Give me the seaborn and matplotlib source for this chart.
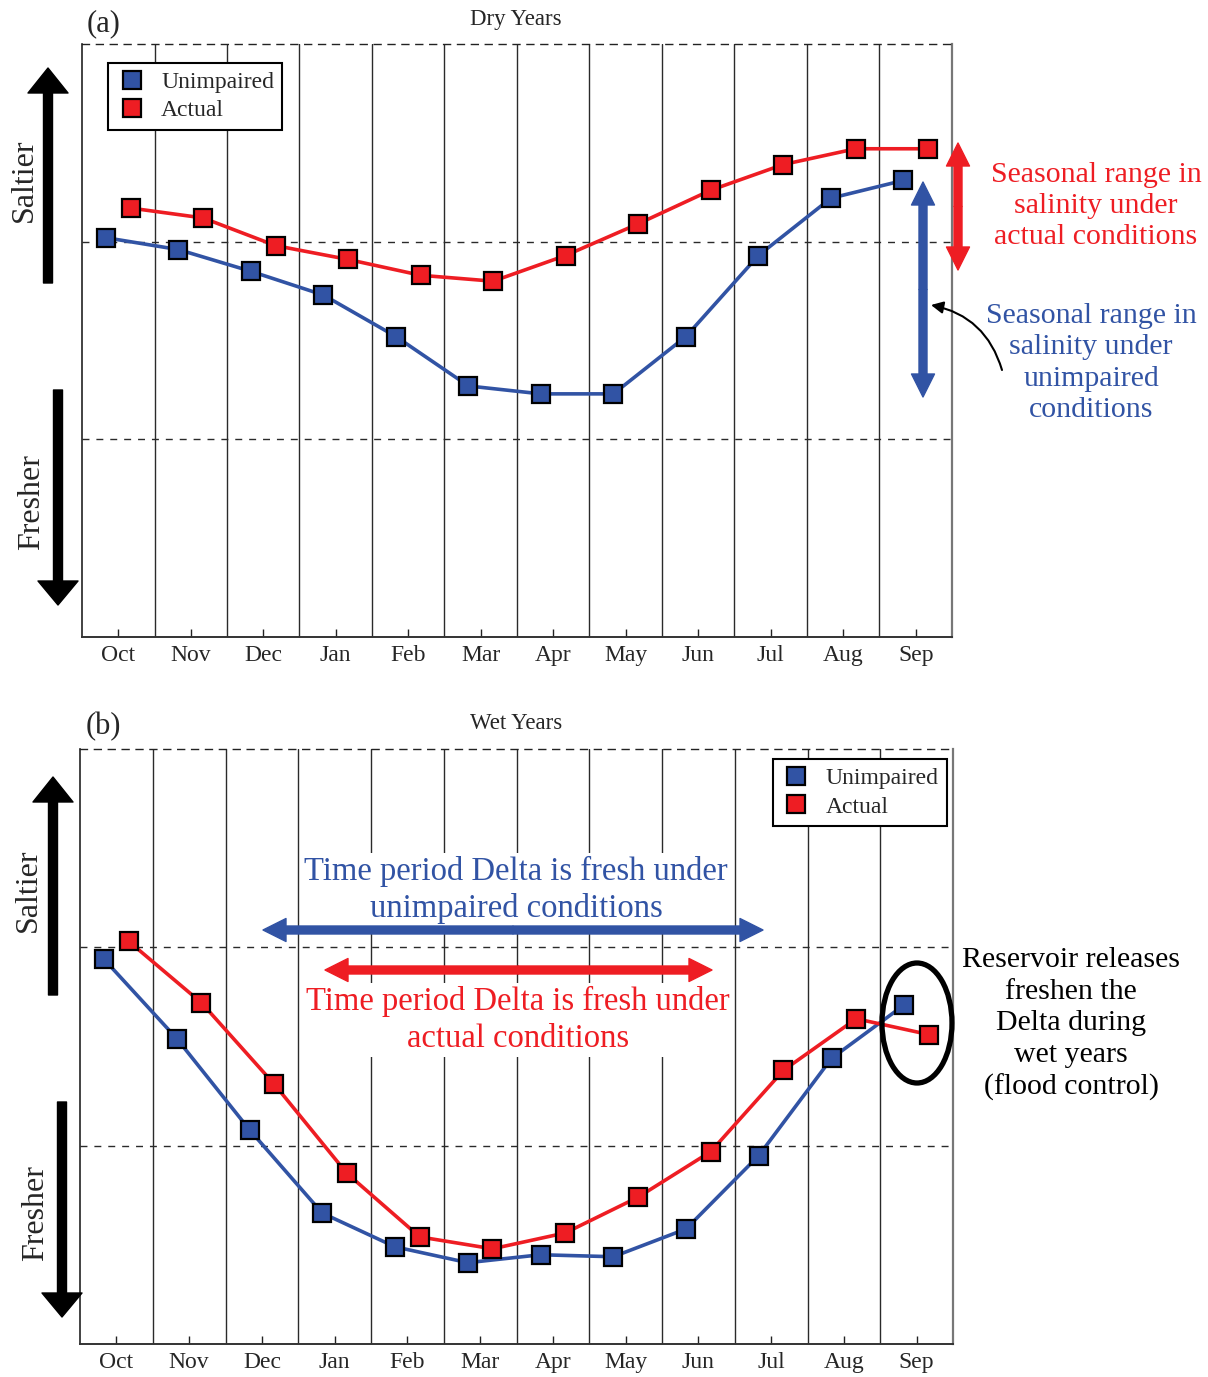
import matplotlib
matplotlib.use("Agg")
import matplotlib.pyplot as plt
import seaborn as sns
from matplotlib.lines import Line2D
from matplotlib.patches import FancyArrowPatch, ArrowStyle, Ellipse

# data (relative salinity, 0 = freshest, 3 = saltiest)
months = ["Oct", "Nov", "Dec", "Jan", "Feb", "Mar", "Apr", "May", "Jun", "Jul", "Aug", "Sep"]
dry_unimpaired = [2.02, 1.96, 1.85, 1.73, 1.52, 1.27, 1.23, 1.23, 1.52, 1.93, 2.22, 2.31]
dry_actual = [2.17, 2.12, 1.98, 1.91, 1.83, 1.80, 1.93, 2.09, 2.26, 2.39, 2.47, 2.47]
wet_unimpaired = [1.94, 1.54, 1.08, 0.66, 0.49, 0.41, 0.45, 0.44, 0.58, 0.95, 1.44, 1.71]
wet_actual = [2.03, 1.72, 1.31, 0.86, 0.54, 0.48, 0.56, 0.74, 0.97, 1.38, 1.64, 1.56]

BLUE = "#3153A4"
RED = "#EE1D23"
W, H = 1208, 1377

sns.set_style("white")
plt.rcParams["font.family"] = ["Liberation Serif", "DejaVu Serif"]


def fx(x, y):
    # pixel position in the reference -> figure fraction
    return (x / W, 1 - y / H)


def ftext(x, y, s, **kw):
    fig.text(x / W, 1 - y / H, s, ha="center", va="center", **kw)


def farrow(p0, p1, color, hw, hl, tw=8):
    st = ArrowStyle.Simple(head_length=hl * 0.72, head_width=hw * 0.72, tail_width=tw * 0.72)
    a = FancyArrowPatch(fx(*p0), fx(*p1), transform=fig.transFigure, arrowstyle=st,
                        mutation_scale=1, color=color, shrinkA=0, shrinkB=0, zorder=6)
    fig.patches.append(a)


def darrow(p0, p1, color, hw=23, hl=23, tw=8):
    mid = ((p0[0] + p1[0]) / 2, (p0[1] + p1[1]) / 2)
    farrow(mid, p0, color, hw, hl, tw)
    farrow(mid, p1, color, hw, hl, tw)


def panel(ax, unimpaired, actual, legend_loc, legend_anchor):
    ax.set_xlim(0, 12)
    ax.set_ylim(0, 3)
    for b in range(1, 12):
        ax.axvline(b, color="#2a2a2a", lw=1, zorder=1)
    for h in (1, 2):
        ax.axhline(h, color="#2a2a2a", lw=1, ls=(0, (5, 5)), zorder=1)
    pos = list(range(12))
    sns.lineplot(x=[p + 0.33 for p in pos], y=unimpaired, ax=ax, color=BLUE, lw=2.6,
                 marker="s", markersize=13, markeredgecolor="black", markeredgewidth=1.6,
                 zorder=4)
    sns.lineplot(x=[p + 0.67 for p in pos], y=actual, ax=ax, color=RED, lw=2.6,
                 marker="s", markersize=13, markeredgecolor="black", markeredgewidth=1.6,
                 zorder=4)
    ax.set_xticks([p + 0.5 for p in pos])
    ax.set_xticklabels(months, fontsize=17)
    ax.set_yticks([])
    ax.tick_params(axis="x", direction="in", length=6, width=1, color="#222222", pad=6,
                   bottom=True)
    ax.spines["top"].set_linestyle((0, (5, 5)))
    ax.spines["top"].set_color("#222222")
    ax.spines["top"].set_linewidth(1)
    ax.spines["right"].set_color("#777777")
    ax.spines["right"].set_linewidth(1.6)
    ax.spines["left"].set_color("#222222")
    ax.spines["left"].set_linewidth(1.2)
    ax.spines["bottom"].set_color("#333333")
    ax.spines["bottom"].set_linewidth(1.4)
    handles = [
        Line2D([], [], marker="s", ls="none", markerfacecolor=BLUE, markeredgecolor="black",
               markeredgewidth=1.6, markersize=13, label="Unimpaired"),
        Line2D([], [], marker="s", ls="none", markerfacecolor=RED, markeredgecolor="black",
               markeredgewidth=1.6, markersize=13, label="Actual"),
    ]
    leg = ax.legend(handles=handles, loc=legend_loc, bbox_to_anchor=legend_anchor,
                    borderaxespad=0, fontsize=17, frameon=True, fancybox=False,
                    framealpha=1, edgecolor="black", handletextpad=0.6,
                    borderpad=0.35, labelspacing=0.3, handlelength=1.3)
    leg.get_frame().set_linewidth(1.5)
    leg.set_zorder(10)
    ax.set_xlabel("")
    ax.set_ylabel("")


fig = plt.figure(figsize=(W / 100, H / 100), dpi=100)
ax1 = fig.add_axes([82 / W, 1 - 637 / H, 870 / W, 593 / H])
ax2 = fig.add_axes([80 / W, 1 - 1344 / H, 873 / W, 595 / H])

panel(ax1, dry_unimpaired, dry_actual, "upper left", (0.030, 0.968))
panel(ax2, wet_unimpaired, wet_actual, "upper right", (0.993, 0.983))

# titles and panel tags
ftext(516, 20, "Dry Years", fontsize=16.5)
ftext(104, 24, "(a)", fontsize=22)
ftext(516, 724, "Wet Years", fontsize=16.5)
ftext(103, 727, "(b)", fontsize=22)

# Saltier / Fresher side arrows
ftext(24, 180, "Saltier", fontsize=23, rotation=90)
ftext(32, 502, "Fresher", fontsize=23, rotation=90)
ftext(28, 890, "Saltier", fontsize=23, rotation=90)
ftext(36, 1213, "Fresher", fontsize=23, rotation=90)
farrow((48, 283), (48, 68), "black", 40, 25, 9)
farrow((58, 390), (58, 605), "black", 40, 24, 9)
farrow((53, 995), (53, 777), "black", 40, 25, 9)
farrow((62, 1102), (62, 1317), "black", 40, 24, 9)

# dry years: seasonal range annotations
darrow((958, 143), (958, 270), RED)
darrow((923, 182), (923, 397), BLUE)
ftext(1096, 206, "Seasonal range in\nsalinity under\nactual conditions", fontsize=21.5,
      color=RED, linespacing=1.27)
ftext(1091, 363, "Seasonal range in\nsalinity under\nunimpaired\nconditions", fontsize=21.5,
      color=BLUE, linespacing=1.27)
curve = FancyArrowPatch(fx(1002, 370), fx(931, 305), transform=fig.transFigure,
                        connectionstyle="arc3,rad=0.3", arrowstyle="-|>", mutation_scale=18,
                        color="black", lw=1.5, shrinkA=0, shrinkB=0, zorder=6)
fig.patches.append(curve)

# wet years: fresh period annotations
ftext(516, 890, "Time period Delta is fresh under\nunimpaired conditions", fontsize=23.5,
      color=BLUE, linespacing=1.25,
      bbox=dict(facecolor="white", edgecolor="none", pad=2))
ftext(518, 1020, "Time period Delta is fresh under\nactual conditions", fontsize=23.5,
      color=RED, linespacing=1.25,
      bbox=dict(facecolor="white", edgecolor="none", pad=2))
darrow((263, 930), (763, 930), BLUE)
darrow((325, 970), (712, 970), RED)

ell = Ellipse(fx(917, 1023), 70 / W, 120 / H, transform=fig.transFigure, fill=False,
              edgecolor="black", lw=3.8, zorder=6)
fig.patches.append(ell)
ftext(1071, 1024, "Reservoir releases\nfreshen the\nDelta during\nwet years\n(flood control)",
      fontsize=21.5, color="black", linespacing=1.27)

fig.savefig("out.png", dpi=100)
